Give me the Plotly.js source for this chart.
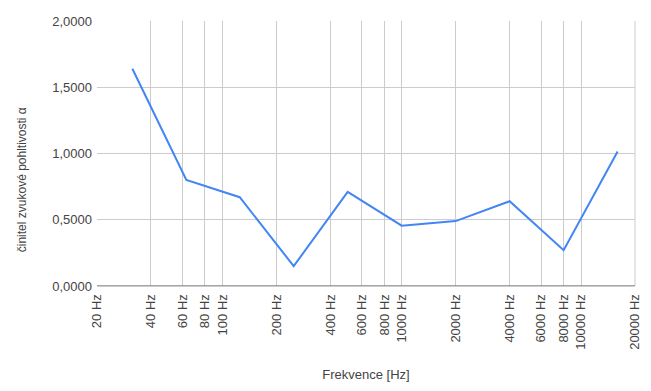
<!DOCTYPE html>
<html><head><meta charset="utf-8">
<script src="https://cdn.plot.ly/plotly-3.0.1.min.js"></script>
<style>html,body{margin:0;padding:0;background:#fff}#c{width:651px;height:391px}</style>
</head><body><div id="c"></div>
<script>
const freqs = [31.5, 63, 125, 250, 500, 1000, 2000, 4000, 8000, 16000];
const alpha = [1.64, 0.80, 0.67, 0.15, 0.71, 0.455, 0.49, 0.64, 0.27, 1.015];
const xTickVals = [20, 40, 60, 80, 100, 200, 400, 600, 800, 1000, 2000, 4000, 6000, 8000, 10000, 20000];
const xTickText = xTickVals.map(v => v + ' Hz');
const yTickVals = [0, 0.5, 1, 1.5, 2];

const font = {family: 'Arial, "Liberation Sans", sans-serif', size: 13, color: '#444'};
Plotly.newPlot('c', [{
  x: freqs, y: alpha, type: 'scatter', mode: 'lines',
  line: {color: '#4285F4', width: 2}, hoverinfo: 'skip'
}], {
  width: 651, height: 391,
  margin: {l: 97, r: 16, t: 21, b: 105},
  paper_bgcolor: '#fff', plot_bgcolor: '#fff',
  font: font,
  separators: ', ',
  showlegend: false,
  xaxis: {
    type: 'log', range: [Math.log10(20), Math.log10(20000)],
    tickmode: 'array', tickvals: xTickVals, ticktext: xTickText,
    tickangle: -90, showgrid: true, gridcolor: '#cccccc', gridwidth: 1,
    zeroline: false, showline: true, linecolor: '#cccccc', mirror: false,
    ticks: '', ticklabelstandoff: 2,
    title: {text: 'Frekvence [Hz]', font: font, standoff: 21}
  },
  yaxis: {
    range: [0, 2], tickmode: 'array', tickvals: yTickVals, tickformat: '.4f',
    showgrid: true, gridcolor: '#cccccc', gridwidth: 1, zeroline: false,
    showline: false, ticks: '', ticklabelstandoff: 4
  },
  annotations: [{
    text: 'činitel zvukové pohltivosti α', textangle: -90,
    xref: 'paper', yref: 'paper', x: -0.139, y: 0.4,
    xanchor: 'center', yanchor: 'middle', showarrow: false,
    font: {family: font.family, size: 12, color: '#444'}
  }],
  shapes: [
    {type: 'line', xref: 'paper', yref: 'paper', x0: 1, x1: 1, y0: 0, y1: 1, line: {color: '#cccccc', width: 1}},
    {type: 'line', xref: 'paper', yref: 'y', x0: 0, x1: 1, y0: 0, y1: 0, line: {color: '#888888', width: 1.5}}
  ]
}, {displayModeBar: false, staticPlot: true});
</script></body></html>
